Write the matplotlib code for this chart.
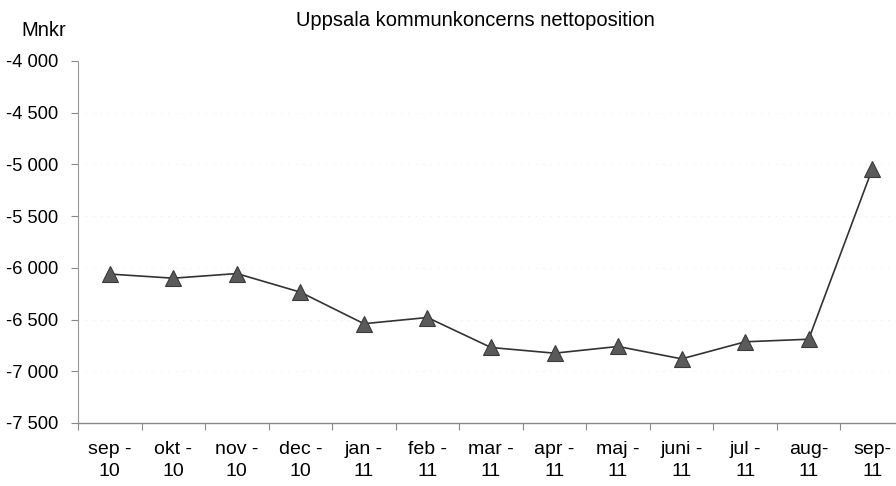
import matplotlib
matplotlib.use("Agg")
import matplotlib.pyplot as plt
from matplotlib import font_manager
from matplotlib.ticker import FuncFormatter

categories = ["sep -\n10", "okt -\n10", "nov -\n10", "dec -\n10", "jan -\n11", "feb -\n11",
              "mar -\n11", "apr -\n11", "maj -\n11", "juni -\n11", "jul -\n11", "aug-\n11", "sep-\n11"]
values = [-6060, -6100, -6055, -6235, -6540, -6480, -6770, -6825, -6760, -6880, -6715, -6690, -5045]
yticks = [-4000, -4500, -5000, -5500, -6000, -6500, -7000, -7500]

names = {f.name for f in font_manager.fontManager.ttflist}
fam = "Liberation Sans Narrow" if "Liberation Sans Narrow" in names else "Liberation Sans"
plt.rcParams['font.family'] = [fam, 'DejaVu Sans']

W, H = 896, 486
fig = plt.figure(figsize=(W/100, H/100), dpi=100)
left, right, top, bottom = 78, 904, 61, 423
ax = fig.add_axes([left/W, 1-bottom/H, (right-left)/W, (bottom-top)/H])

x = list(range(len(categories)))
ax.plot(x, values, color="#333333", lw=1.2, marker="^", markersize=12,
        markerfacecolor="#5a5a5a", markeredgecolor="#3a3a3a", markeredgewidth=0.8, zorder=3)

ax.set_xlim(-0.5, len(categories)-0.5)
ax.set_ylim(-7500, -4000)
ax.set_yticks(yticks)
ax.yaxis.set_major_formatter(FuncFormatter(lambda v, p: f"{int(v):,}".replace(",", " ")))
ax.set_xticks([i - 0.5 for i in range(len(categories))] + [len(categories)-0.5])
ax.set_xticklabels([])
ax.set_xticks(x, minor=True)
ax.set_xticklabels(categories, minor=True, linespacing=1.35)
ax.tick_params(axis="x", which="minor", length=0, pad=13, labelsize=14)
ax.tick_params(axis="x", which="major", length=5, color="#888888", direction="out")
ax.tick_params(axis="y", length=5, color="#888888", labelsize=13.2, pad=9)

for s in ["top", "right"]:
    ax.spines[s].set_visible(False)
ax.spines["left"].set_color("#999999")
ax.spines["left"].set_linestyle((0, (1, 1)))
ax.spines["left"].set_linewidth(0.8)
ax.spines["bottom"].set_color("#888888")
ax.spines["bottom"].set_linewidth(1.0)

for yv in yticks[1:-1]:
    ax.axhline(yv, color="#e2e2e2", lw=0.6, ls=(0, (1, 8)), zorder=1)

fig.text(475/W, 1-20/H, "Uppsala kommunkoncerns nettoposition", ha="center", va="center", fontsize=14.5)
fig.text(44/W, 1-31/H, "Mnkr", ha="center", va="center", fontsize=14.5)

fig.savefig("out.png", dpi=100)
